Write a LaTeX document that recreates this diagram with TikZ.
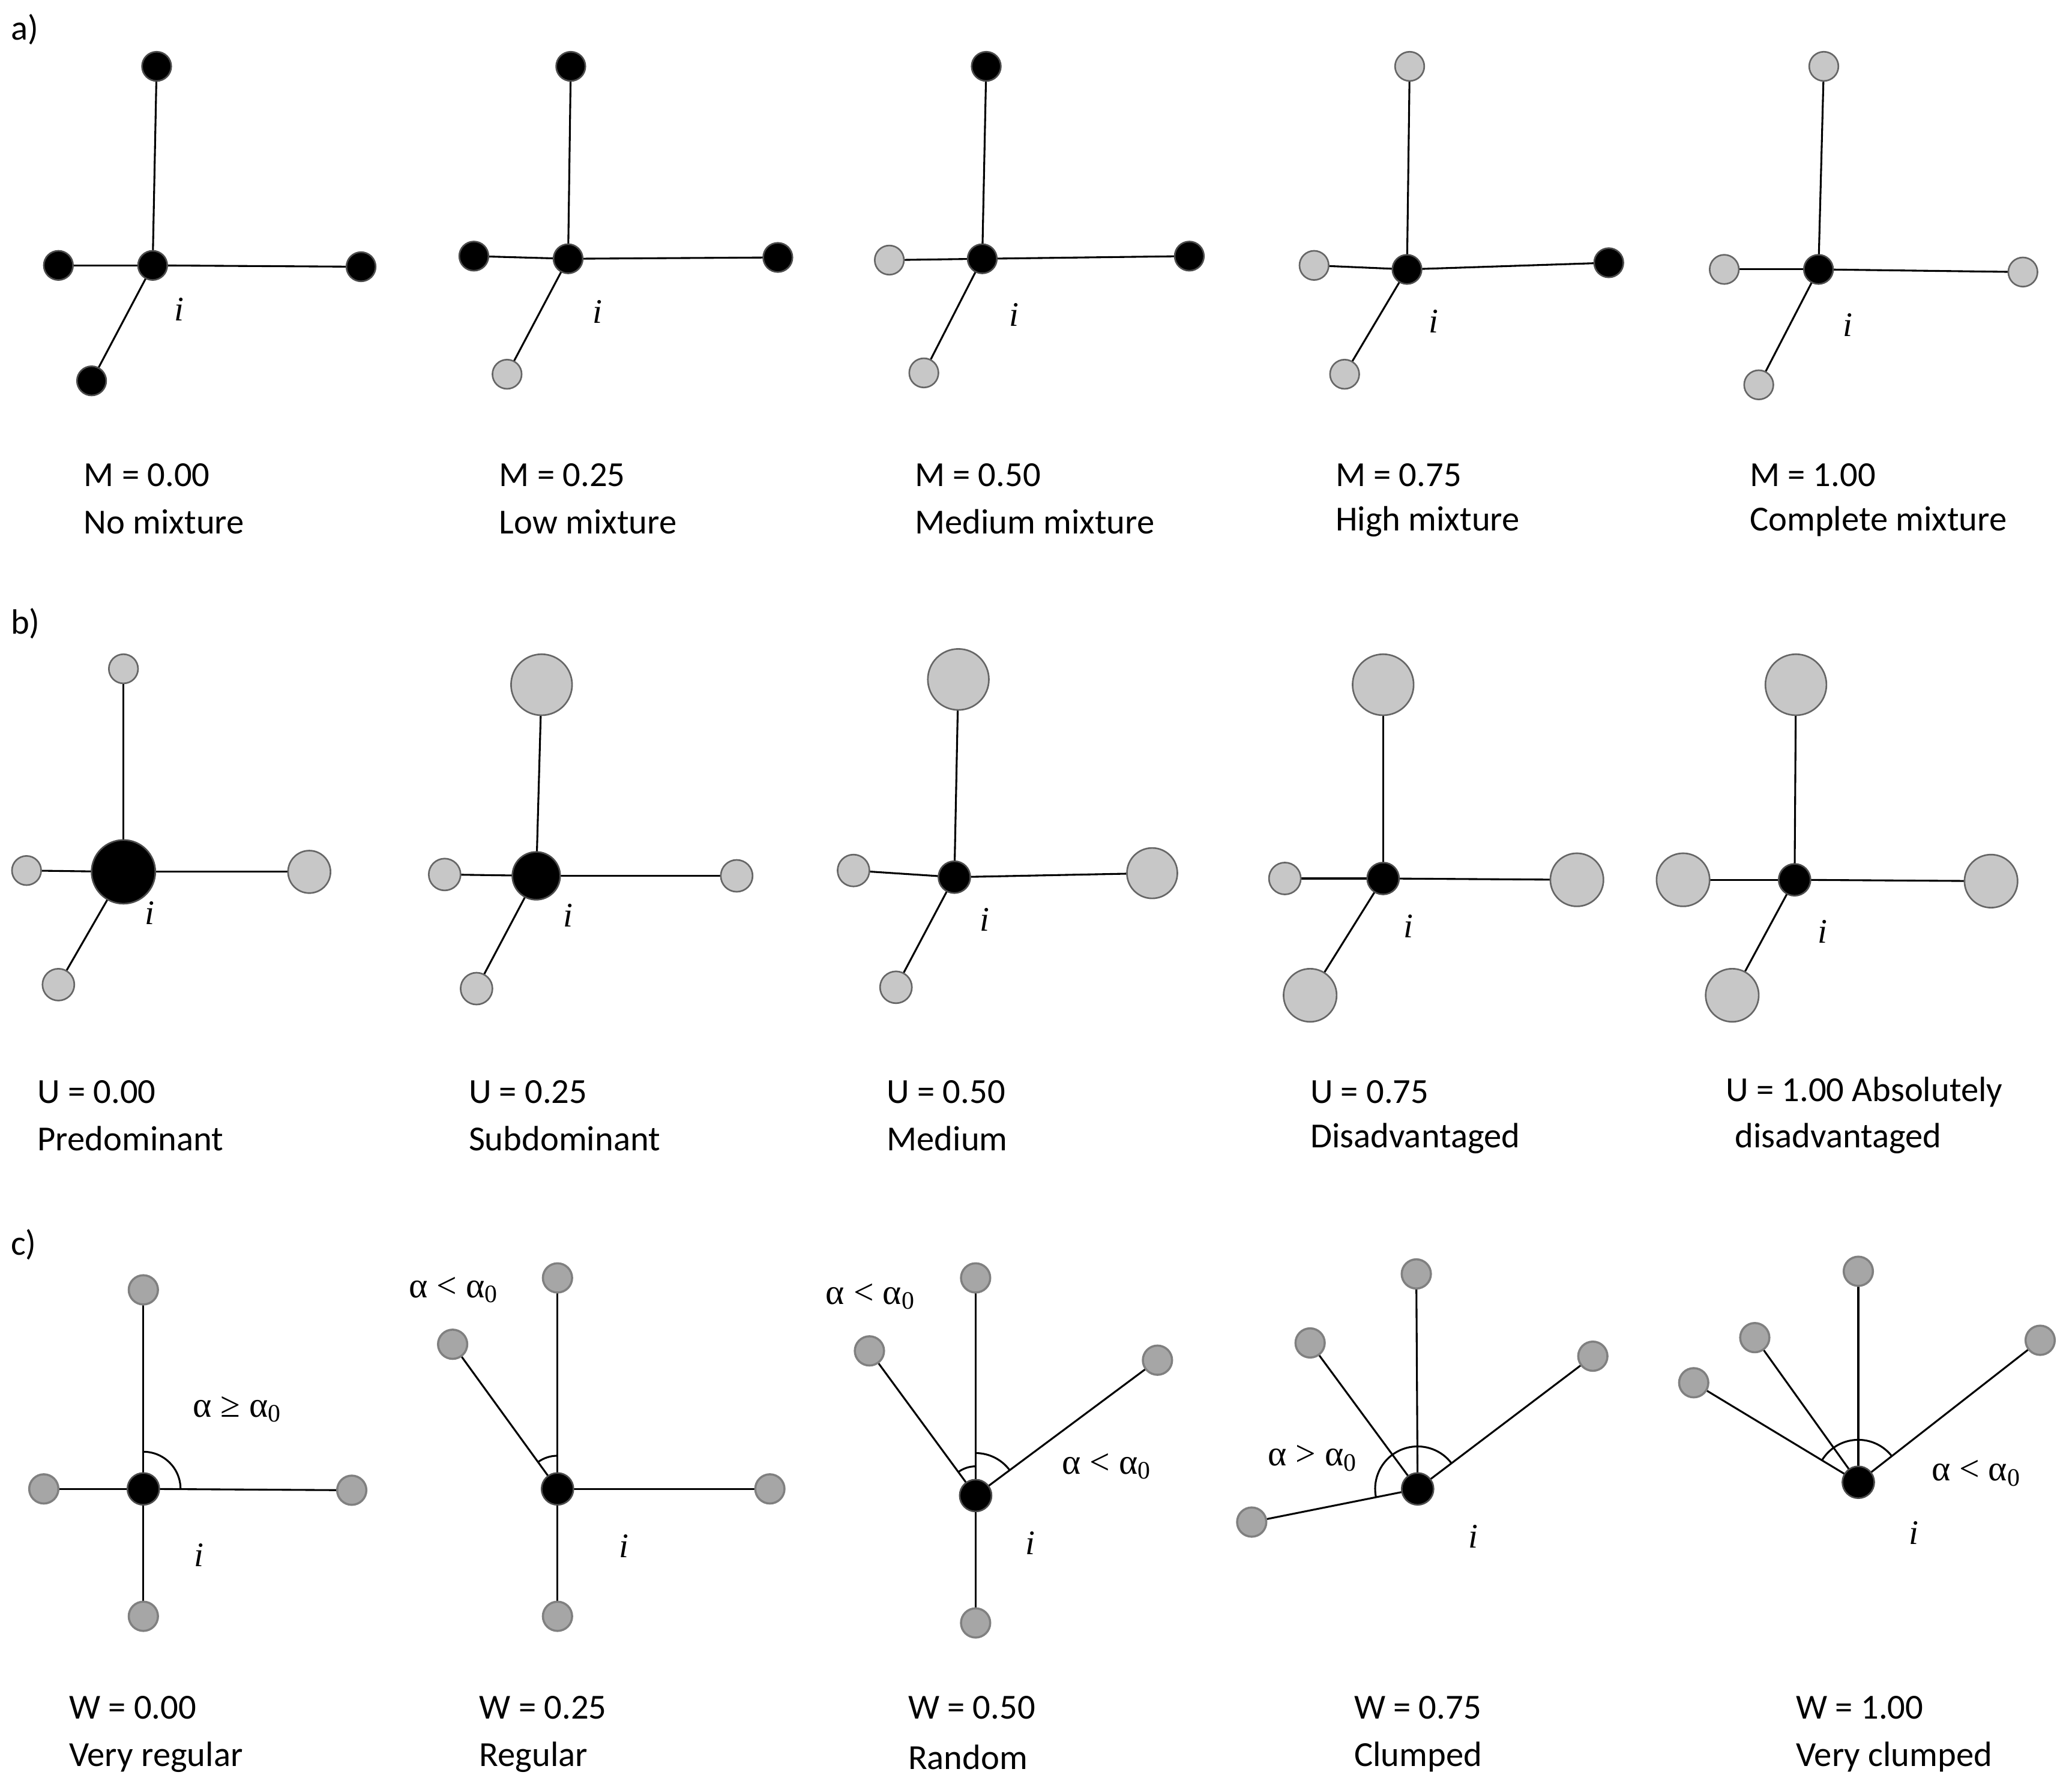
\documentclass[tikz,border=0pt]{standalone}
\usepackage{fontspec}
\setmainfont{Carlito}
\newfontfamily\serf{Liberation Serif}
\usetikzlibrary{backgrounds}
\begin{document}
\begin{tikzpicture}[x=1pt,y=-1pt,
  every node/.style={inner sep=0pt},
  bk/.style={circle,fill=black,draw=black!70,line width=1.2pt,minimum size=#1},
  bk/.default=22pt,
  lg/.style={circle,fill=black!22,draw=black!60,line width=1.2pt,minimum size=#1},
  lg/.default=22pt,
  dg/.style={circle,fill=black!35,draw=black!50,line width=1.6pt,minimum size=#1},
  dg/.default=22pt,
  ed/.style={line width=1.4pt},
  lab/.style={anchor=west,font=\fontsize{26.5}{30}\selectfont},
  gk/.style={anchor=west,font=\serf\fontsize{27}{30}\selectfont},
  ii/.style={font=\serf\itshape\fontsize{26}{30}\selectfont},
  ar/.style={line width=1.4pt}]
\useasboundingbox (0,0) rectangle (1561,1342);
\node[lab] (pa) at (8,22) {a)};
\node[lab] (pb) at (8,470) {b)};
\node[lab] (pc) at (8,938) {c)};
% row a
\node[bk] (a1) at (115,200) {}; \node[bk] (a1t) at (118,50) {}; \node[bk] (a1l) at (44,200) {}; \node[bk] (a1r) at (272,201) {}; \node[bk] (a1b) at (69,287) {};
\node[bk] (a2) at (428,195) {}; \node[bk] (a2t) at (430,50) {}; \node[bk] (a2l) at (357,193) {}; \node[bk] (a2r) at (586,194) {}; \node[lg] (a2b) at (382,282) {};
\node[bk] (a3) at (740,195) {}; \node[bk] (a3t) at (743,50) {}; \node[lg] (a3l) at (670,196) {}; \node[bk] (a3r) at (896,193) {}; \node[lg] (a3b) at (696,281) {};
\node[bk] (a4) at (1060,203) {}; \node[lg] (a4t) at (1062,50) {}; \node[lg] (a4l) at (990,200) {}; \node[bk] (a4r) at (1212,198) {}; \node[lg] (a4b) at (1013,282) {};
\node[bk] (a5) at (1370,203) {}; \node[lg] (a5t) at (1374,50) {}; \node[lg] (a5l) at (1299,203) {}; \node[lg] (a5r) at (1524,205) {}; \node[lg] (a5b) at (1325,290) {};
% row b
\node[bk=48pt] (b1) at (93,657) {}; \node[lg] (b1t) at (93,504) {}; \node[lg] (b1l) at (20,656) {}; \node[lg=32pt] (b1r) at (233,657) {}; \node[lg=24pt] (b1b) at (44,742) {};
\node[bk=36pt] (b2) at (404,660) {}; \node[lg=46pt] (b2t) at (408,516) {}; \node[lg=24pt] (b2l) at (335,659) {}; \node[lg=24pt] (b2r) at (555,660) {}; \node[lg=24pt] (b2b) at (359,745) {};
\node[bk=24pt] (b3) at (719,661) {}; \node[lg=46pt] (b3t) at (722,512) {}; \node[lg=24pt] (b3l) at (643,656) {}; \node[lg=38pt] (b3r) at (868,658) {}; \node[lg=24pt] (b3b) at (675,744) {};
\node[bk=24pt] (b4) at (1042,662) {}; \node[lg=46pt] (b4t) at (1042,516) {}; \node[lg=24pt] (b4l) at (968,662) {}; \node[lg=40pt] (b4r) at (1188,663) {}; \node[lg=40pt] (b4b) at (987,750) {};
\node[bk=24pt] (b5) at (1352,663) {}; \node[lg=46pt] (b5t) at (1353,516) {}; \node[lg=40pt] (b5l) at (1268,663) {}; \node[lg=40pt] (b5r) at (1500,664) {}; \node[lg=40pt] (b5b) at (1305,750) {};
% row c
\node[bk=24pt] (c1) at (108,1122) {}; \node[dg] (c1t) at (108,972) {}; \node[dg] (c1l) at (33,1122) {}; \node[dg] (c1r) at (265,1123) {}; \node[dg] (c1b) at (108,1218) {};
\node[bk=24pt] (c2) at (420,1122) {}; \node[dg] (c2t) at (420,963) {}; \node[dg] (c2u) at (341,1013) {}; \node[dg] (c2r) at (580,1122) {}; \node[dg] (c2b) at (420,1218) {};
\node[bk=24pt] (c3) at (735,1127) {}; \node[dg] (c3t) at (735,963) {}; \node[dg] (c3u) at (655,1018) {}; \node[dg] (c3r) at (872,1025) {}; \node[dg] (c3b) at (735,1223) {};
\node[bk=24pt] (c4) at (1068,1122) {}; \node[dg] (c4t) at (1067,960) {}; \node[dg] (c4u) at (987,1012) {}; \node[dg] (c4r) at (1200,1022) {}; \node[dg] (c4l) at (943,1147) {};
\node[bk=24pt] (c5) at (1400,1117) {}; \node[dg] (c5t) at (1400,958) {}; \node[dg] (c5u) at (1322,1008) {}; \node[dg] (c5l) at (1276,1042) {}; \node[dg] (c5r) at (1537,1010) {};
\begin{pgfonlayer}{background}
\foreach \r in {a1,a2,a3,a4,a5,b1,b2,b3,b4,b5}{
  \foreach \s in {t,l,r,b}{\draw[ed] (\r.center) -- (\r\s.center);}}
\foreach \s in {t,l,r,b}{\draw[ed] (c1.center) -- (c1\s.center);}
\foreach \s in {t,u,r,b}{\draw[ed] (c2.center) -- (c2\s.center);}
\foreach \s in {t,u,r,b}{\draw[ed] (c3.center) -- (c3\s.center);}
\foreach \s in {t,u,r,l}{\draw[ed] (c4.center) -- (c4\s.center);}
\foreach \s in {t,u,r,l}{\draw[ed] (c5.center) -- (c5\s.center);}
\end{pgfonlayer}
% arcs
\draw[ar] (c1.center) ++(-90:28) arc[start angle=-90,end angle=0,radius=28];
\draw[ar] (c2.center) ++(-126:25) arc[start angle=-126,end angle=-90,radius=25];
\draw[ar] (c3.center) ++(-126:22) arc[start angle=-126,end angle=-90,radius=22];
\draw[ar] (c3.center) ++(-90:32) arc[start angle=-90,end angle=-37,radius=32];
\draw[ar] (c4.center) ++(-191:32) arc[start angle=-191,end angle=-37,radius=32];
\draw[ar] (c5.center) ++(-149:32) arc[start angle=-149,end angle=-38,radius=32];
% i labels
\foreach \p/\n in {{(135,233)}/ia1,{(450,235)}/ia2,{(764,237)}/ia3,{(1080,242)}/ia4,{(1392,245)}/ia5,
  {(113,688)}/ib1,{(428,690)}/ib2,{(742,693)}/ib3,{(1061,698)}/ib4,{(1373,702)}/ib5,
  {(150,1172)}/ic1,{(470,1165)}/ic2,{(776,1163)}/ic3,{(1110,1158)}/ic4,{(1442,1155)}/ic5}
  {\node[ii] (\n) at \p {i};}
% greek labels
\node[gk] (g1) at (145,1062) {α ≥ α\textsubscript{0}};
\node[gk] (g2) at (308,972) {α < α\textsubscript{0}};
\node[gk] (g3) at (622,977) {α < α\textsubscript{0}};
\node[gk] (g4) at (800,1105) {α < α\textsubscript{0}};
\node[gk] (g5) at (955,1099) {α > α\textsubscript{0}};
\node[gk] (g6) at (1455,1110) {α < α\textsubscript{0}};
% captions
\node[lab] (ma1) at (63,358) {M = 0.00}; \node[lab] (ma2) at (63,393) {No mixture};
\node[lab] (mb1) at (376,358) {M = 0.25}; \node[lab] (mb2) at (376,393) {Low mixture};
\node[lab] (mc1) at (689,358) {M = 0.50}; \node[lab] (mc2) at (689,393) {Medium mixture};
\node[lab] (md1) at (1006,358) {M = 0.75}; \node[lab] (md2) at (1006,393) {High mixture};
\node[lab] (me1) at (1318,358) {M = 1.00}; \node[lab] (me2) at (1318,393) {Complete mixture};
\node[lab] (ua1) at (28,823) {U = 0.00}; \node[lab] (ua2) at (28,858) {Predominant};
\node[lab] (ub1) at (353,823) {U = 0.25}; \node[lab] (ub2) at (353,858) {Subdominant};
\node[lab] (uc1) at (668,823) {U = 0.50}; \node[lab] (uc2) at (668,858) {Medium};
\node[lab] (ud1) at (987,823) {U = 0.75}; \node[lab] (ud2) at (987,858) {Disadvantaged};
\node[lab] (ue1) at (1300,823) {U = 1.00 Absolutely}; \node[lab] (ue2) at (1307,858) {disadvantaged};
\node[lab] (wa1) at (52,1287) {W = 0.00}; \node[lab] (wa2) at (52,1324) {Very regular};
\node[lab] (wb1) at (361,1287) {W = 0.25}; \node[lab] (wb2) at (361,1324) {Regular};
\node[lab] (wc1) at (684,1287) {W = 0.50}; \node[lab] (wc2) at (684,1324) {Random};
\node[lab] (wd1) at (1020,1287) {W = 0.75}; \node[lab] (wd2) at (1020,1324) {Clumped};
\node[lab] (we1) at (1353,1287) {W = 1.00}; \node[lab] (we2) at (1353,1324) {Very clumped};
\end{tikzpicture}
\end{document}
